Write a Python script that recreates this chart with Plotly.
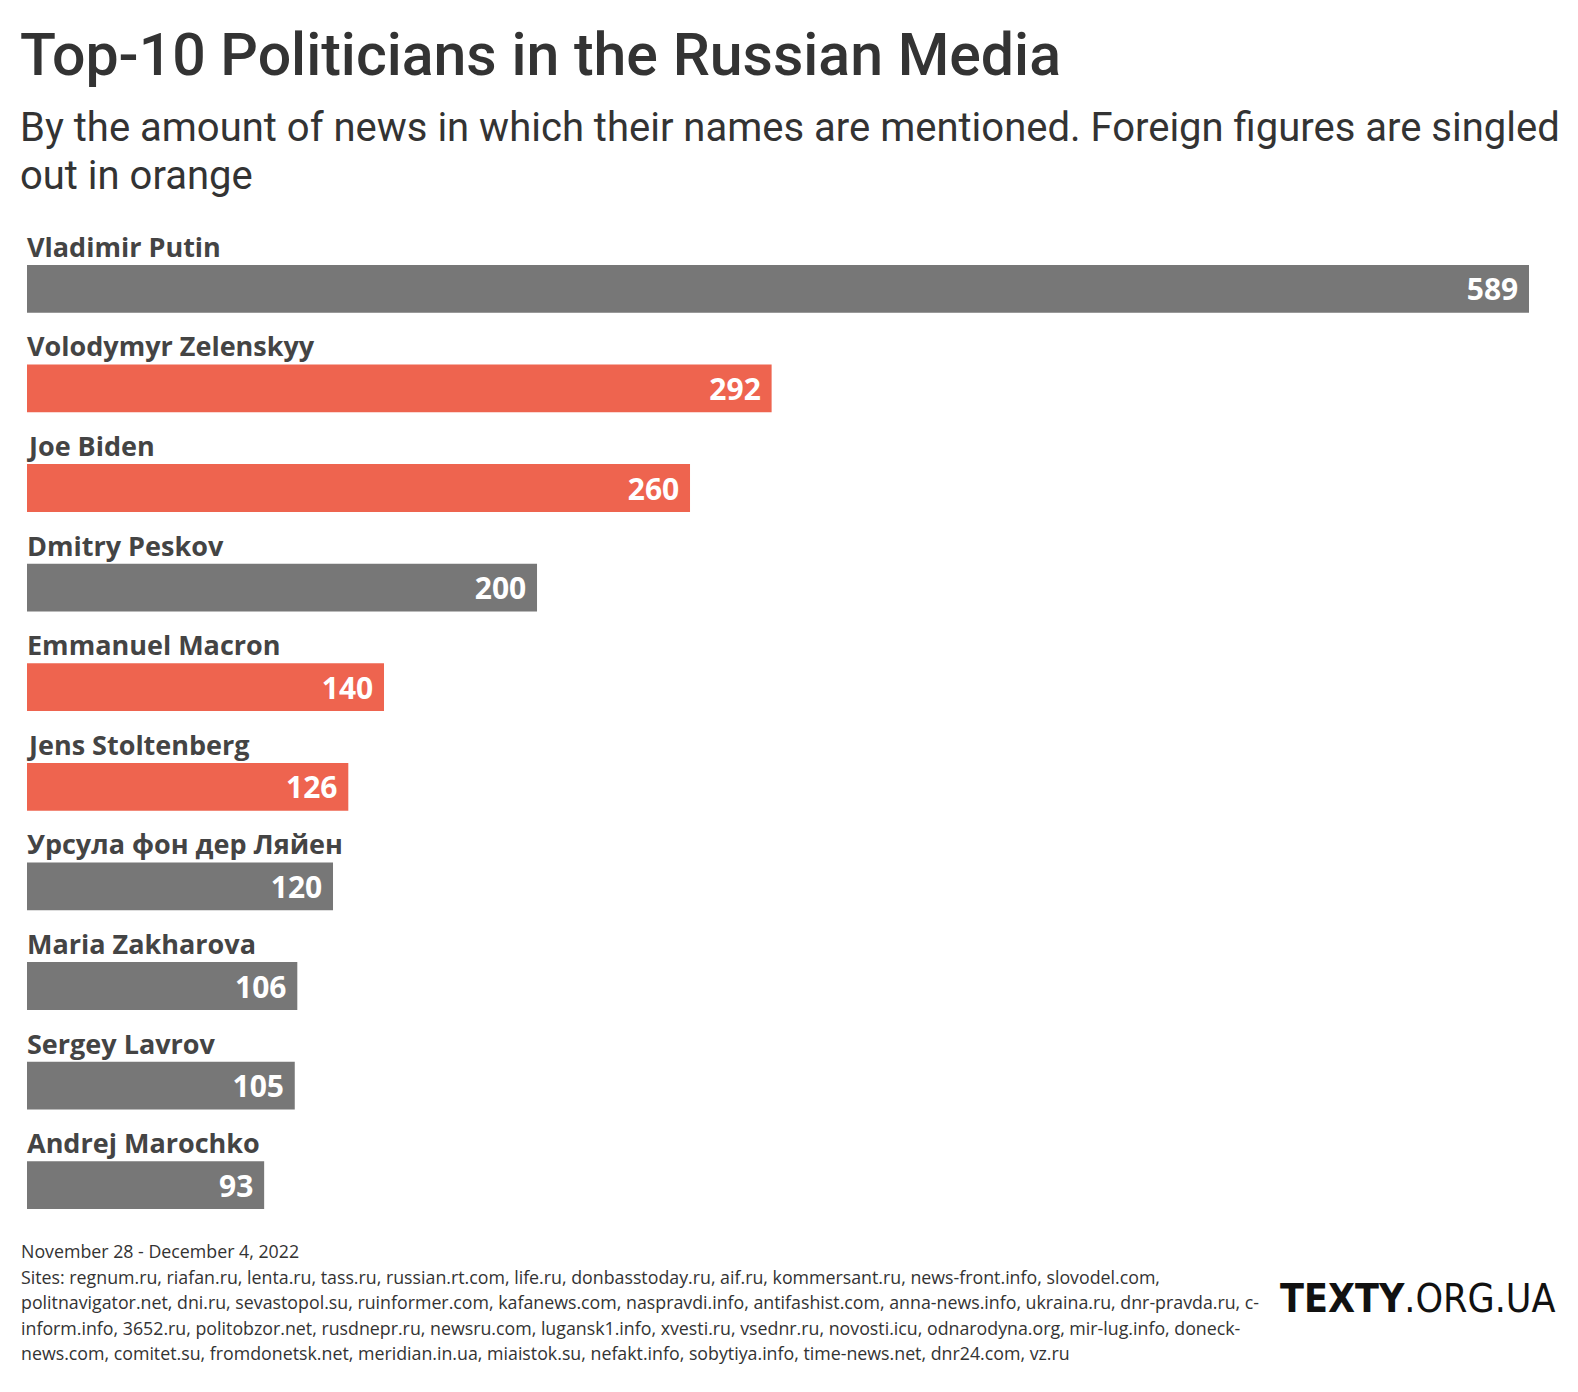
import plotly.graph_objects as go

names = ["Vladimir Putin", "Volodymyr Zelenskyy", "Joe Biden", "Dmitry Peskov",
         "Emmanuel Macron", "Jens Stoltenberg", "Урсула фон дер Ляйен",
         "Maria Zakharova", "Sergey Lavrov", "Andrej Marochko"]
values = [589, 292, 260, 200, 140, 126, 120, 106, 105, 93]
foreign = [False, True, True, False, True, True, False, False, False, False]

title = "Top-10 Politicians in the Russian Media"
subtitle_lines = ["By the amount of news in which their names are mentioned. Foreign figures are singled",
                  "out in orange"]
date_line = "November 28 - December 4, 2022"
sites_lines = [
    "Sites: regnum.ru, riafan.ru, lenta.ru, tass.ru, russian.rt.com, life.ru, donbasstoday.ru, aif.ru, kommersant.ru, news-front.info, slovodel.com,",
    "politnavigator.net, dni.ru, sevastopol.su, ruinformer.com, kafanews.com, naspravdi.info, antifashist.com, anna-news.info, ukraina.ru, dnr-pravda.ru, c-",
    "inform.info, 3652.ru, politobzor.net, rusdnepr.ru, newsru.com, lugansk1.info, xvesti.ru, vsednr.ru, novosti.icu, odnarodyna.org, mir-lug.info, doneck-",
    "news.com, comitet.su, fromdonetsk.net, meridian.in.ua, miaistok.su, nefakt.info, sobytiya.info, time-news.net, dnr24.com, vz.ru",
]

GRAY = "#777777"
ORANGE = "#EE644F"
OFF = 8  # default body margin of the page
W, H = 1578 - 2 * OFF, 1392 - 2 * OFF
L, R, T, B = 27 - OFF, 41, 239 - OFF, 149
PW, PH = W - L - R, H - T - B

def px(x):
    return (x - OFF - L) / PW

def py(y):
    return (H - B - (y - OFF)) / PH

colors = [ORANGE if f else GRAY for f in foreign]
BODY = "Open Sans, Noto Sans, sans-serif"
HEAD = "Roboto, sans-serif"
COND = "DejaVu Sans Condensed, Roboto, sans-serif"

fig = go.Figure(go.Bar(
    x=values, y=names, orientation="h",
    marker=dict(color=colors, line=dict(width=0)),
    width=0.48,
    text=[f"{v}\u00a0" for v in values],
    textposition="inside", insidetextanchor="end",
    textfont=dict(family=BODY, size=30, color="white", weight="bold"),
    constraintext="none",
    hoverinfo="skip",
))

annotations = []
for n in names:
    annotations.append(dict(
        x=0, xref="x", y=n, yref="y", xanchor="left", yanchor="bottom",
        xshift=-2, yshift=22, text=n, showarrow=False,
        font=dict(family=BODY, size=27, color="#444444", weight="bold"),
    ))

annotations.append(dict(
    x=px(18), y=py(55), xref="paper", yref="paper", xanchor="left", yanchor="middle",
    text=title, showarrow=False,
    font=dict(family=HEAD, size=59, color="#333333", weight=500),
))
for i, line in enumerate(subtitle_lines):
    annotations.append(dict(
        x=px(18), y=py(128 + i * 47), xref="paper", yref="paper", xanchor="left", yanchor="middle",
        text=line, showarrow=False, align="left",
        font=dict(family=HEAD, size=40, color="#333333"),
    ))
foot_lines = [date_line] + sites_lines
for i, line in enumerate(foot_lines):
    annotations.append(dict(
        x=px(19), y=py(1251 + i * 25.6), xref="paper", yref="paper",
        xanchor="left", yanchor="middle", text=line, showarrow=False,
        font=dict(family=BODY, size=17.8, color="#333333"),
    ))
annotations.append(dict(
    x=px(1557), y=py(1298), xref="paper", yref="paper", xanchor="right", yanchor="middle",
    text="<b>TEXTY</b>.ORG.UA", showarrow=False,
    font=dict(family=COND, size=39, color="#111111"),
))

fig.update_layout(
    width=W, height=H,
    margin=dict(l=L, r=R, t=T, b=B, autoexpand=False),
    paper_bgcolor="white", plot_bgcolor="white",
    showlegend=False,
    xaxis=dict(range=[0, 589], visible=False, fixedrange=True),
    yaxis=dict(range=[9.5, -0.5], type="category", visible=False, fixedrange=True),
    annotations=annotations,
)

fig.write_html("out.html")
